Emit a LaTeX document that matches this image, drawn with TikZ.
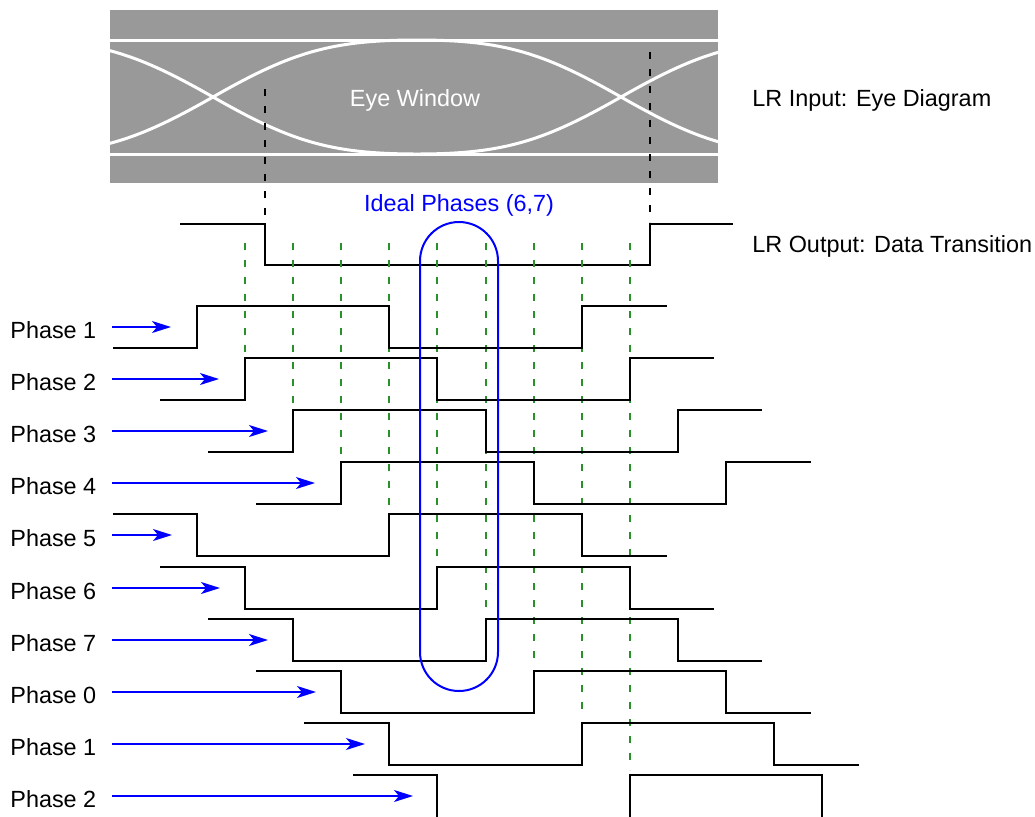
\documentclass[tikz,border=0pt]{standalone}
\usepackage{fontspec}
\setmainfont{Liberation Sans}
\usetikzlibrary{arrows.meta}

\definecolor{eyegray}{RGB}{153,153,153}
\definecolor{phasegreen}{RGB}{40,145,40}

\tikzset{
	signal/.style={line width=1pt, black},
	sample/.style={line width=1pt, phasegreen, dash pattern=on 3.5pt off 5pt},
	edge/.style={line width=1pt, black, dash pattern=on 3.5pt off 5pt},
	eye/.style={line width=1.5pt, white},
	clk/.style={line width=0.8pt, blue, -{Stealth[length=9.5pt, width=6pt, inset=2.5pt]}},
	lbl/.style={anchor=west, inner sep=0pt}
}

\begin{document}
\begin{tikzpicture}[x=0.5pt, y=-0.5pt, font=\fontsize{11.7}{14}\selectfont]
	\useasboundingbox (0,0) rectangle (1035,816);

	% eye diagram
	\fill[eyegray] (110,10) rectangle (718,183);
	\begin{scope}
		\clip (110,10) rectangle (718,183);
		\draw[eye] (110,40) -- (718,40);
		\draw[eye] (110,154) -- (718,154);
		\draw[eye] (9,154) .. controls (96,154) and (136,141) .. (213,97)
			.. controls (290,53) and (330,40) .. (417,40)
			.. controls (504,40) and (544,53) .. (621,97)
			.. controls (698,141) and (738,154) .. (825,154);
		\draw[eye] (9,40) .. controls (96,40) and (136,53) .. (213,97)
			.. controls (290,141) and (330,154) .. (417,154)
			.. controls (504,154) and (544,141) .. (621,97)
			.. controls (698,53) and (738,40) .. (825,40);
	\end{scope}
	\node[white] (eyewin) at (415,100) {Eye Window};
	\node[lbl] (lrin) at (752,100) {LR Input: Eye Diagram};

	% data transition
	\draw[edge] (265,89) -- (265,222);
	\draw[edge] (650,52) -- (650,222);
	\draw[signal] (180,224) -- (265,224) -- (265,265) -- (650,265) -- (650,224) -- (733,224);
	\node[lbl] (lrout) at (752,246) {LR Output: Data Transition};

	% sampling instants
	\draw[sample] (245,243) -- (245,353);
	\draw[sample] (293,243) -- (293,405);
	\draw[sample] (341,243) -- (341,457);
	\draw[sample] (389,243) -- (389,509);
	\draw[sample] (437,243) -- (437,562);
	\draw[sample] (486,243) -- (486,614);
	\draw[sample] (534,243) -- (534,666);
	\draw[sample] (582,243) -- (582,718);
	\draw[sample] (630,243) -- (630,770);

	% phases
	\draw[signal] (113,348) -- (197,348) -- (197,306) -- (389,306) -- (389,348) -- (582,348) -- (582,306) -- (667,306);
	\draw[signal] (160,400) -- (245,400) -- (245,358) -- (437,358) -- (437,400) -- (630,400) -- (630,358) -- (714,358);
	\draw[signal] (208,452) -- (293,452) -- (293,410) -- (486,410) -- (486,452) -- (678,452) -- (678,410) -- (762,410);
	\draw[signal] (256,504) -- (341,504) -- (341,462) -- (534,462) -- (534,504) -- (726,504) -- (726,462) -- (811,462);
	\draw[signal] (113,514) -- (197,514) -- (197,556) -- (389,556) -- (389,514) -- (582,514) -- (582,556) -- (667,556);
	\draw[signal] (160,567) -- (245,567) -- (245,609) -- (437,609) -- (437,567) -- (630,567) -- (630,609) -- (714,609);
	\draw[signal] (208,619) -- (293,619) -- (293,661) -- (486,661) -- (486,619) -- (678,619) -- (678,661) -- (762,661);
	\draw[signal] (256,671) -- (341,671) -- (341,713) -- (534,713) -- (534,671) -- (726,671) -- (726,713) -- (811,713);
	\draw[signal] (304,723) -- (389,723) -- (389,765) -- (582,765) -- (582,723) -- (774,723) -- (774,765) -- (859,765);
	\draw[signal] (353,775) -- (437,775) -- (437,822);
	\draw[signal] (630,822) -- (630,775) -- (822,775) -- (822,822);

	\node[lbl] (p1) at (10,330) {Phase 1};
	\node[lbl] (p2) at (10,382) {Phase 2};
	\node[lbl] (p3) at (10,434) {Phase 3};
	\node[lbl] (p4) at (10,486) {Phase 4};
	\node[lbl] (p5) at (10,538) {Phase 5};
	\node[lbl] (p6) at (10,591) {Phase 6};
	\node[lbl] (p7) at (10,643) {Phase 7};
	\node[lbl] (p0) at (10,695) {Phase 0};
	\node[lbl] (q1) at (10,747) {Phase 1};
	\node[lbl] (q2) at (10,799) {Phase 2};

	\coordinate (t1) at (171,327);
	\coordinate (t2) at (219,379);
	\coordinate (t3) at (268,431);
	\coordinate (t4) at (315,483);
	\coordinate (t5) at (172,535);
	\coordinate (t6) at (220,588);
	\coordinate (t7) at (268,640);
	\coordinate (t0) at (316,692);
	\coordinate (u1) at (365,744);
	\coordinate (u2) at (413,796);

	\draw[clk] (112,327) -- (t1);
	\draw[clk] (112,379) -- (t2);
	\draw[clk] (112,431) -- (t3);
	\draw[clk] (112,483) -- (t4);
	\draw[clk] (112,535) -- (t5);
	\draw[clk] (112,588) -- (t6);
	\draw[clk] (112,640) -- (t7);
	\draw[clk] (112,692) -- (t0);
	\draw[clk] (112,744) -- (u1);
	\draw[clk] (112,796) -- (u2);

	% ideal phases
	\draw[line width=1pt, blue, rounded corners=19.5pt] (420,222) rectangle (498,691);
	\node[blue] (ideal) at (459,205) {Ideal Phases (6,7)};
\end{tikzpicture}
\end{document}
